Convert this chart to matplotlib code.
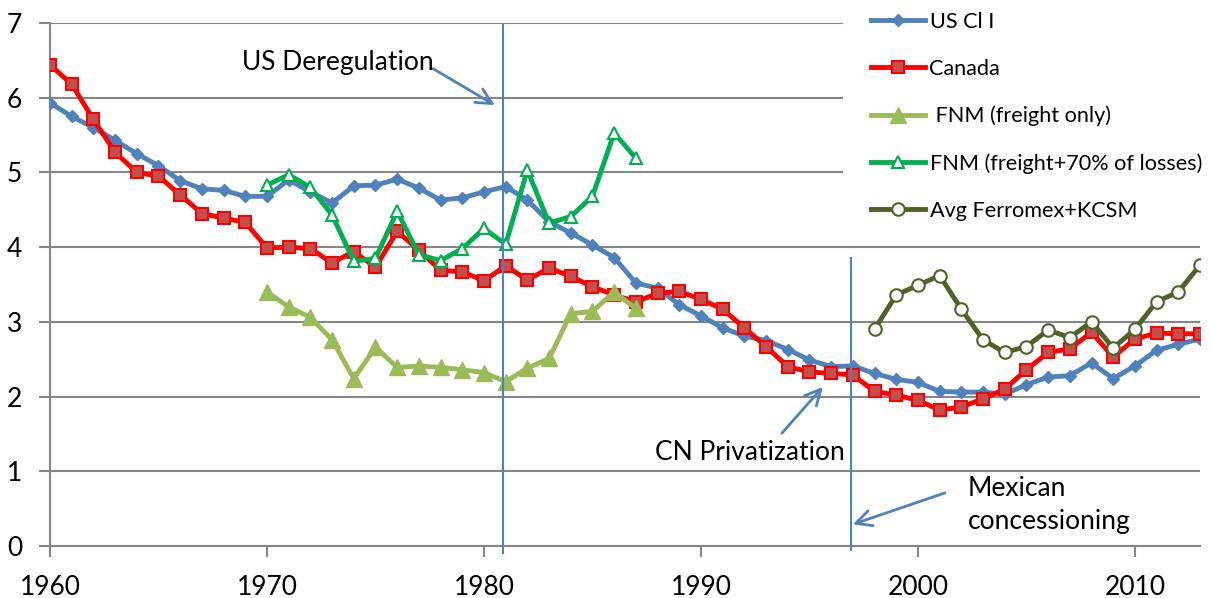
import matplotlib
matplotlib.use('Agg')
import matplotlib.pyplot as plt
from matplotlib.patches import Rectangle

plt.rcParams['font.family'] = ['Lato', 'DejaVu Sans']

years_us = list(range(1960, 2014))
us_cl1 = [5.93, 5.75, 5.60, 5.43, 5.25, 5.09, 4.89, 4.78, 4.76, 4.68,
          4.68, 4.90, 4.74, 4.59, 4.82, 4.83, 4.91, 4.79, 4.63, 4.66,
          4.74, 4.81, 4.63, 4.34, 4.19, 4.03, 3.86, 3.52, 3.45, 3.23,
          3.08, 2.92, 2.81, 2.75, 2.63, 2.49, 2.40, 2.41, 2.31, 2.23,
          2.19, 2.07, 2.06, 2.06, 2.03, 2.16, 2.26, 2.28, 2.45, 2.24,
          2.41, 2.62, 2.70, 2.77]
canada = [6.44, 6.18, 5.71, 5.27, 5.00, 4.95, 4.70, 4.45, 4.39, 4.33,
          3.99, 4.00, 3.98, 3.79, 3.94, 3.73, 4.21, 3.96, 3.69, 3.67,
          3.55, 3.75, 3.56, 3.72, 3.61, 3.47, 3.36, 3.27, 3.38, 3.41,
          3.30, 3.17, 2.92, 2.67, 2.40, 2.33, 2.31, 2.29, 2.07, 2.02,
          1.95, 1.82, 1.86, 1.97, 2.10, 2.36, 2.59, 2.64, 2.86, 2.53,
          2.77, 2.85, 2.84, 2.84]

years_fnm = list(range(1970, 1988))
fnm_freight = [3.40, 3.20, 3.06, 2.76, 2.24, 2.66, 2.39, 2.41, 2.39, 2.36,
               2.32, 2.20, 2.38, 2.51, 3.11, 3.14, 3.40, 3.18]
fnm_losses = [4.83, 4.97, 4.80, 4.43, 3.81, 3.85, 4.48, 3.90, 3.82, 3.98,
              4.25, 4.04, 5.03, 4.32, 4.41, 4.68, 5.53, 5.19]

years_mx = list(range(1998, 2014))
ferromex_kcsm = [2.90, 3.36, 3.49, 3.62, 3.17, 2.76, 2.59, 2.67, 2.89, 2.79,
                 3.00, 2.65, 2.90, 3.27, 3.40, 3.76]

W, H = 1211, 598
fig = plt.figure(figsize=(W / 100, H / 100), dpi=100)
ax = fig.add_axes([50 / W, 52 / H, 1150 / W, 523 / H])

grey = '#868686'
ax.set_axisbelow(True)
ax.grid(axis='y', color=grey, lw=1.5)

# white box behind the legend hides the gridlines
ax.add_patch(Rectangle((843 / W, 1 - 236 / H), 1, 1, transform=fig.transFigure,
                       facecolor='white', edgecolor='none', zorder=1, clip_on=False))

ax.plot(years_us, us_cl1, color='#4F81BD', lw=3.5, marker='D', ms=6,
        mfc='#4F81BD', mec='#4F81BD', label='US Cl I', zorder=3)
ax.plot(years_us, canada, color='#FF0000', lw=3.5, marker='s', ms=9,
        mfc='#C0504D', mec='#FF0000', mew=1.5, label='Canada', zorder=3)
ax.plot(years_fnm, fnm_freight, color='#9BBB59', lw=3.5, marker='^', ms=11,
        mfc='#9BBB59', mec='#9BBB59', label=' FNM (freight only)', zorder=3)
ax.plot(years_fnm, fnm_losses, color='#00B050', lw=3.5, marker='^', ms=8.5,
        mfc='white', mec='#00B050', mew=1.5, label='FNM (freight+70% of losses)', zorder=3)
ax.plot(years_mx, ferromex_kcsm, color='#4F6228', lw=3.5, marker='o', ms=9,
        mfc='white', mec='#4F6228', mew=1.5, label='Avg Ferromex+KCSM', zorder=3)

# event lines
ax.plot([1980.86, 1980.86], [6.97, -0.09], color='#4F81BD', lw=1.5, clip_on=False, zorder=4)
ax.plot([1996.9, 1996.9], [3.86, -0.05], color='#4F81BD', lw=1.5, clip_on=False, zorder=4)

arrow = dict(arrowstyle='->', color='#4F81BD', lw=2, mutation_scale=28, shrinkA=0, shrinkB=0)
ax.annotate('', xy=(1980.5, 5.90), xytext=(1977.65, 6.39), arrowprops=arrow)
ax.annotate('', xy=(1995.62, 2.13), xytext=(1993.73, 1.51), arrowprops=arrow)
ax.annotate('', xy=(1997.0, 0.29), xytext=(2001.24, 0.71), arrowprops=arrow)

ax.text(1968.83, 6.47, 'US Deregulation', fontsize=19, va='center', ha='left')
ax.text(1987.88, 1.245, 'CN Privatization', fontsize=19, va='center', ha='left')
ax.text(2002.3, 0.55, 'Mexican\nconcessioning', fontsize=19, va='center', ha='left',
        linespacing=1.4)

ax.set_xlim(1960, 2013)
ax.set_ylim(0, 7)
ax.set_xticks(range(1960, 2011, 10))
ax.set_yticks(range(0, 8))
for s in ['top', 'right']:
    ax.spines[s].set_visible(False)
for s in ['left', 'bottom']:
    ax.spines[s].set_color(grey)
    ax.spines[s].set_linewidth(1.5)
ax.tick_params(axis='both', colors=grey, labelcolor='black', labelsize=19,
               length=8, width=1.5)
ax.tick_params(axis='x', pad=13)
ax.tick_params(axis='y', pad=12)

leg = ax.legend(loc='upper left', bbox_to_anchor=(871 / W, 1 - 12 / H),
                bbox_transform=fig.transFigure, frameon=False, fontsize=15.6,
                handlelength=2.5, handletextpad=0.2, labelspacing=1.24,
                borderpad=0, borderaxespad=0)
leg.set_zorder(5)

fig.savefig('out.png', dpi=100)
